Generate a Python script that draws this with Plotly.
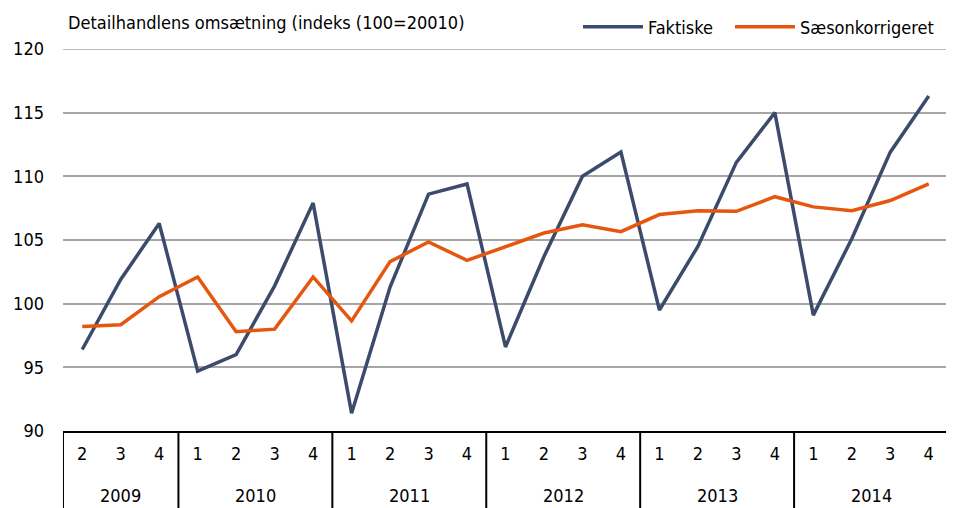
import plotly.graph_objects as go

quarters = ["2", "3", "4"] + ["1", "2", "3", "4"] * 5
years = ["2009", "2010", "2011", "2012", "2013", "2014"]
year_counts = [3, 4, 4, 4, 4, 4]

faktiske = [96.4, 101.9, 106.3,
            94.7, 96.0, 101.4, 107.9,
            91.4, 101.3, 108.6, 109.4,
            96.6, 103.7, 110.0, 111.9,
            99.5, 104.5, 111.1, 115.0,
            99.1, 105.1, 111.9, 116.3]
saeson = [98.2, 98.35, 100.55,
          102.1, 97.8, 98.0, 102.1,
          98.65, 103.3, 104.85, 103.4,
          104.5, 105.55, 106.2, 105.65,
          107.0, 107.3, 107.25, 108.4,
          107.6, 107.3, 108.1, 109.4]

Y_MIN, Y_MAX = 90, 120
FONT = "DejaVu Sans Condensed, Liberation Sans Narrow, sans-serif"
x = list(range(len(quarters)))
W, H = 946, 500

fig = go.Figure()
fig.add_trace(go.Scatter(x=x, y=faktiske, mode="lines", name="Faktiske",
                         line=dict(color="#3c4a6c", width=3.5), legend="legend"))
fig.add_trace(go.Scatter(x=x, y=saeson, mode="lines", name="Sæsonkorrigeret",
                         line=dict(color="#e5560f", width=3.5), legend="legend2"))

shapes = []
annotations = []
start = 0
bounds = [-0.5]
for yr, n in zip(years, year_counts):
    annotations.append(dict(x=start + (n - 1) / 2, y=-0.168, xref="x", yref="paper",
                            text=yr, showarrow=False, yanchor="middle",
                            font=dict(family=FONT, size=18, color="#000")))
    start += n
    bounds.append(start - 0.5)
for b in bounds:
    shapes.append(dict(type="line", xref="x", yref="paper", x0=b, x1=b, y0=0, y1=-0.25,
                       line=dict(color="#000", width=2)))
# top gridline at axis maximum
shapes.append(dict(type="line", xref="paper", yref="y", x0=0, x1=1, y0=Y_MAX, y1=Y_MAX,
                   line=dict(color="#a6a6a6", width=1.5), layer="below"))

annotations.append(dict(x=0.003, y=1.07, xref="paper", yref="paper", xanchor="left",
                        yanchor="middle", showarrow=False,
                        text="Detailhandlens omsætning (indeks (100=20010)",
                        font=dict(family=FONT, size=18, color="#000")))

leg_common = dict(orientation="h", xanchor="left", xref="container", yref="container",
                  yanchor="middle", y=1 - 19 / H, font=dict(family=FONT, size=18),
                  itemwidth=60, bgcolor="rgba(0,0,0,0)")

fig.update_layout(
    width=W, height=H,
    margin=dict(l=55, r=6, t=41, b=77, autoexpand=False),
    plot_bgcolor="white", paper_bgcolor="white",
    font=dict(family=FONT, size=18, color="#000"),
    showlegend=True,
    legend=dict(x=570 / W, **leg_common),
    legend2=dict(x=722 / W, **leg_common),
    xaxis=dict(range=[-0.5, len(quarters) - 0.5], tickvals=x, ticktext=quarters,
               showgrid=False, zeroline=False, ticks="", showline=True,
               linecolor="#000", linewidth=2, ticklabelstandoff=5,
               tickfont=dict(family=FONT, size=18)),
    yaxis=dict(range=[Y_MIN, Y_MAX], dtick=5, showgrid=True, gridcolor="#a6a6a6",
               gridwidth=1.5, zeroline=False, ticks="", showline=False,
               ticklabelstandoff=18, tickfont=dict(family=FONT, size=18)),
    shapes=shapes, annotations=annotations,
)

fig.write_html("out.html")
